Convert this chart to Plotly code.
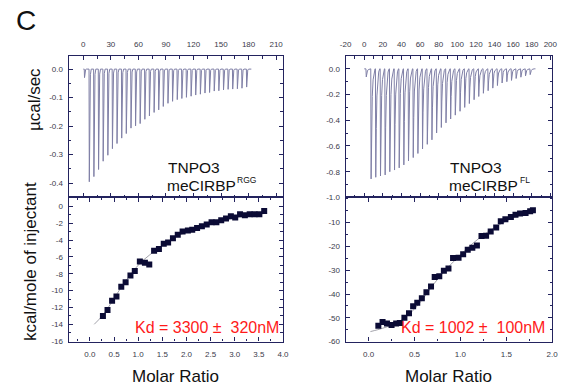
import plotly.graph_objects as go

# ---------------- data ----------------
# Left: TNPO3 + meCIRBP(RGG) raw thermogram (time in min, ucal/sec)
rgg_inj_time = [1.0, 6.2, 11.2, 16.3, 21.3, 26.4, 31.4, 36.4, 41.5, 46.5, 51.6, 56.6, 61.6,
                66.7, 71.7, 76.8, 81.8, 86.8, 91.9, 96.9, 102.0, 107.0, 112.0, 117.1,
                122.1, 127.2, 132.2, 137.2, 142.3, 147.3, 152.4, 157.4, 162.4, 167.5,
                172.5, 177.6]
rgg_peak = [-0.03, -0.395, -0.377, -0.352, -0.323, -0.302, -0.279, -0.261, -0.242, -0.226,
            -0.207, -0.199, -0.191, -0.176, -0.164, -0.152, -0.143, -0.131, -0.120,
            -0.113, -0.107, -0.103, -0.099, -0.095, -0.091, -0.088, -0.084, -0.082,
            -0.077, -0.076, -0.073, -0.071, -0.070, -0.069, -0.067, -0.063]
rgg_time_end = 183.0

# Left: integrated heats (kcal/mole of injectant vs molar ratio)
rgg_ratio = [0.27, 0.365, 0.46, 0.55, 0.65, 0.74, 0.84, 0.93, 1.035, 1.14, 1.23, 1.33,
             1.43, 1.53, 1.62, 1.72, 1.82, 1.92, 2.03, 2.12, 2.22, 2.32, 2.42, 2.52,
             2.62, 2.72, 2.82, 2.92, 3.01, 3.11, 3.21, 3.31, 3.41, 3.51, 3.61]
rgg_heat = [-13.0, -12.3, -11.2, -10.7, -9.55, -9.0, -8.2, -7.67, -6.53, -6.7, -6.9,
            -5.28, -5.05, -4.45, -4.3, -3.78, -3.36, -2.97, -2.86, -2.78, -2.58, -2.35,
            -2.15, -1.88, -1.88, -1.64, -1.45, -1.18, -1.33, -0.94, -1.06, -0.94, -0.94,
            -0.94, -0.55]
rgg_fit_ratio = [0.09, 0.27, 0.46, 0.65, 0.84, 1.03, 1.23, 1.43, 1.62, 1.82, 2.03, 2.22,
                 2.42, 2.62, 2.82, 3.01, 3.21, 3.41, 3.61]
rgg_fit_heat = [-14.0, -12.9, -11.3, -9.6, -8.1, -6.8, -5.8, -4.9, -4.2, -3.5, -3.0, -2.6,
                -2.2, -1.9, -1.6, -1.35, -1.15, -1.0, -0.85]

# Right: TNPO3 + meCIRBP(FL) raw thermogram
fl_inj_time = [1.8, 7.0, 12.0, 17.1, 22.1, 27.1, 32.2, 37.2, 42.2, 47.2, 52.3, 57.3, 62.3,
               67.4, 72.4, 77.4, 82.5, 87.5, 92.5, 97.5, 102.6, 107.6, 112.6, 117.7,
               122.7, 127.7, 132.8, 137.8, 142.8, 147.8, 152.9, 157.9, 162.9, 168.0,
               173.0, 178.0]
fl_peak = [-0.063, -0.856, -0.843, -0.833, -0.825, -0.80, -0.787, -0.77, -0.747, -0.716,
           -0.69, -0.658, -0.623, -0.587, -0.552, -0.499, -0.456, -0.42, -0.39, -0.36,
           -0.33, -0.30, -0.27, -0.24, -0.215, -0.19, -0.17, -0.15, -0.13, -0.11, -0.10,
           -0.09, -0.075, -0.065, -0.055, -0.045]
fl_time_end = 184.0

fl_ratio = [0.106, 0.152, 0.20, 0.25, 0.30, 0.34, 0.39, 0.44, 0.485, 0.53, 0.58, 0.63,
            0.68, 0.72, 0.77, 0.82, 0.87, 0.92, 0.98, 1.03, 1.08, 1.13, 1.18, 1.23, 1.28,
            1.33, 1.39, 1.44, 1.49, 1.55, 1.60, 1.65, 1.71, 1.76, 1.79]
fl_heat = [-53.3, -51.8, -52.4, -53.0, -52.4, -52.2, -50.0, -48.1, -45.1, -43.7, -41.8,
           -39.3, -36.8, -32.9, -32.5, -30.2, -29.3, -24.9, -24.8, -23.3, -21.4, -20.6,
           -19.6, -15.6, -15.5, -13.7, -12.0, -9.4, -8.6, -7.6, -6.7, -6.2, -5.9, -5.2,
           -4.8]
fl_fit_ratio = [0.02, 0.1, 0.2, 0.3, 0.4, 0.5, 0.6, 0.7, 0.8, 0.9, 1.0, 1.1, 1.2, 1.3, 1.4,
                1.5, 1.6, 1.7, 1.79]
fl_fit_heat = [-55.8, -55.0, -53.8, -52.2, -49.8, -46.3, -41.6, -36.3, -31.6, -27.4, -23.5,
               -19.9, -16.7, -13.9, -11.4, -9.3, -7.6, -6.2, -5.2]

# tick labels
rgg_time_ticks = [0, 30, 60, 90, 120, 150, 180, 210]
rgg_power_ticks = [0.0, -0.1, -0.2, -0.3, -0.4]
rgg_ratio_ticks = [-0.5, 0.0, 0.5, 1.0, 1.5, 2.0, 2.5, 3.0, 3.5, 4.0]
rgg_heat_ticks = [0, -2, -4, -6, -8, -10, -12, -14, -16]
fl_time_ticks = [-20, 0, 20, 40, 60, 80, 100, 120, 140, 160, 180, 200]
fl_power_ticks = [0.0, -0.2, -0.4, -0.6, -0.8, -1.0]
fl_ratio_ticks = [0.0, 0.5, 1.0, 1.5, 2.0]
fl_heat_ticks = [-10, -20, -30, -40, -50, -60]

# ---------------- style ----------------
W, H = 567, 391
FONT = "Liberation Sans, Arial, sans-serif"
AX = "#23235e"
TICKTXT = "#3a3a4a"
TRACE = "#7f7fa6"
MARK = "#0b0b35"
FITC = "#8c8c96"
RED = "#ff1a1a"


def px(x):
    return x / W


def py(y):
    return 1 - y / H


def thermogram(times, peaks, t_end, offs, fracs):
    xs, ys = [0.0], [0.0]
    for t, p in zip(times, peaks):
        for o, f in zip(offs, fracs):
            xs.append(t + o)
            ys.append(p * f)
    xs.append(t_end)
    ys.append(0.0)
    return xs, ys


rgg_x, rgg_y = thermogram(rgg_inj_time, rgg_peak, rgg_time_end,
                          [0, 0.3, 0.8, 1.5, 2.4], [0, 1, 0.25, 0.05, 0])
fl_x, fl_y = thermogram(fl_inj_time, fl_peak, fl_time_end,
                        [0, 0.35, 0.9, 1.6, 2.5, 3.5, 4.6], [0, 1, 0.55, 0.25, 0.1, 0.03, 0])

fig = go.Figure()
fig.add_trace(go.Scatter(x=rgg_x, y=rgg_y, mode="lines", line=dict(color=TRACE, width=1),
                         xaxis="x", yaxis="y", hoverinfo="skip"))
fig.add_trace(go.Scatter(x=rgg_fit_ratio, y=rgg_fit_heat, mode="lines",
                         line=dict(color=FITC, width=0.8, shape="spline"),
                         xaxis="x2", yaxis="y2"))
fig.add_trace(go.Scatter(x=rgg_ratio, y=rgg_heat, mode="markers",
                         marker=dict(symbol="square", size=6, color=MARK),
                         xaxis="x2", yaxis="y2"))
fig.add_trace(go.Scatter(x=fl_x, y=fl_y, mode="lines", line=dict(color=TRACE, width=1),
                         xaxis="x3", yaxis="y3", hoverinfo="skip"))
fig.add_trace(go.Scatter(x=fl_fit_ratio, y=fl_fit_heat, mode="lines",
                         line=dict(color=FITC, width=0.8, shape="spline"),
                         xaxis="x4", yaxis="y4"))
fig.add_trace(go.Scatter(x=fl_ratio, y=fl_heat, mode="markers",
                         marker=dict(symbol="square", size=6, color=MARK),
                         xaxis="x4", yaxis="y4"))


def fmt(vals, dec):
    return [f"{v:.{dec}f}" for v in vals]


def axis(domain, anchor, rng, ticks, dec, minor_dtick, side, standoff):
    return dict(
        domain=domain, anchor=anchor, range=rng, side=side,
        tickmode="array", tickvals=ticks, ticktext=fmt(ticks, dec),
        ticks="inside", ticklen=4, tickwidth=1, tickcolor=AX,
        minor=dict(ticks="inside", ticklen=2.5, tickwidth=1, tickcolor=AX,
                   tickmode="linear", tick0=0, dtick=minor_dtick),
        showline=True, linecolor=AX, linewidth=1.2, mirror="allticks",
        showgrid=False, zeroline=False,
        tickfont=dict(family=FONT, size=8, color=TICKTXT),
        ticklabelstandoff=standoff,
    )


LX = [px(64), px(283)]
RX = [px(347), px(558)]
TY = [py(200), py(56.7)]
BY = [py(346), py(200)]

fig.update_layout(
    width=W, height=H, margin=dict(l=0, r=0, t=0, b=0),
    paper_bgcolor="white", plot_bgcolor="white", showlegend=False,
    xaxis=axis(LX, "y", [-16, 217.5], rgg_time_ticks, 0, 15, "top", 5),
    yaxis=axis(TY, "x", [-0.45, 0.046], rgg_power_ticks, 1, 0.05, "left", 3),
    xaxis2=axis(LX, "y2", [-0.44, 4.0], rgg_ratio_ticks, 1, 0.25, "bottom", 5),
    yaxis2=axis(BY, "x2", [-16.05, 1.06], rgg_heat_ticks, 0, 1, "left", 3),
    xaxis3=axis(RX, "y3", [-20, 202], fl_time_ticks, 0, 10, "top", 5),
    yaxis3=axis(TY, "x3", [-1.0, 0.1], fl_power_ticks, 1, 0.1, "left", 3),
    xaxis4=axis(RX, "y4", [-0.25, 2.0], fl_ratio_ticks, 1, 0.25, "bottom", 5),
    yaxis4=axis(BY, "x4", [-60, 0.6], fl_heat_ticks, 0, 5, "left", 3),
)


def note(text, x, y, size, color="#111111", xanchor="left", angle=0, pad=1):
    fig.add_annotation(text=text, x=px(x), y=py(y), xref="paper", yref="paper",
                       xanchor=xanchor, yanchor="middle", showarrow=False,
                       textangle=angle, borderpad=pad,
                       font=dict(family=FONT, size=size, color=color))


note("C", 8, 21, 28)
note("µcal/sec", 29, 101, 17, xanchor="center", angle=-90)
note("kcal/mole of injectant", 25, 265, 17, xanchor="center", angle=-90)
note("Molar Ratio", 173.5, 381, 17, xanchor="center")
note("Molar Ratio", 452.5, 381, 17, xanchor="center")
note("TNPO3", 163, 170, 15.5)
note("meCIRBP", 163, 188, 15.5, pad=0)
note("RGG", 235, 182, 8.5, pad=0)
note("TNPO3", 452, 170, 15.5)
note("meCIRBP", 452, 188, 15.5, pad=0)
note("FL", 524, 182, 8.5, pad=0)
note("Kd = 3300 ±  320nM", 130, 332, 16, color=RED)
note("Kd = 1002 ±  100nM", 402, 332, 16, color=RED)

fig.write_html("out.html")
